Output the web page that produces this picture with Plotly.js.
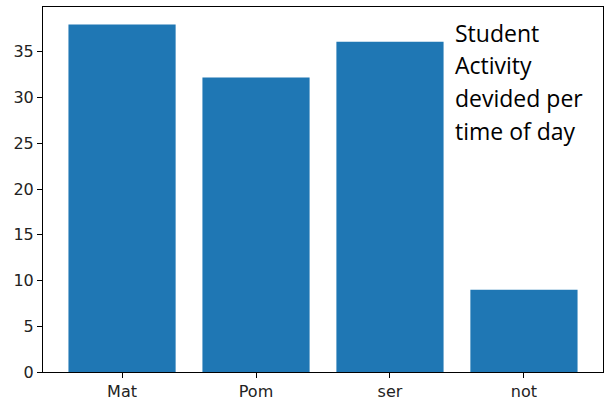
<!DOCTYPE html>
<html>
<head>
<meta charset="utf-8">
<script src="https://cdn.plot.ly/plotly-3.0.1.min.js"></script>
<style>html,body{margin:0;padding:0;background:#fff;}#chart{width:611px;height:410px;}</style>
</head>
<body>
<div id="chart"></div>
<script>
const categories = ["Mat", "Pom", "ser", "not"];
const values = [38, 32.2, 36.1, 9];
const yTicks = [0, 5, 10, 15, 20, 25, 30, 35];
const noteLines = ["Student", "Activity", "devided per", "time of day"];

const W = 611, H = 410;
const margin = {l: 43, r: 8, t: 7, b: 38};
const plotH = H - margin.t - margin.b;
const linePx = [33, 65, 98, 131];

const annotations = noteLines.map((t, i) => ({
  text: t,
  xref: 'x', yref: 'paper',
  x: 2.5, xshift: -4, y: (H - margin.b - linePx[i]) / plotH,
  xanchor: 'left', yanchor: 'middle',
  showarrow: false,
  font: {family: 'Open Sans, Noto Sans, sans-serif', size: 23, color: '#000'}
}));

const trace = {
  type: 'bar',
  x: [0, 1, 2, 3],
  y: values,
  width: 0.8,
  marker: {color: '#1f77b4', line: {width: 0}},
  hoverinfo: 'none'
};

const axisCommon = {
  showline: true, mirror: true, linecolor: '#000', linewidth: 1,
  ticks: 'outside', ticklen: 5, tickwidth: 1, tickcolor: '#000',
  showgrid: false, zeroline: false,
  tickfont: {family: 'DejaVu Sans, sans-serif', size: 16, color: '#222'}
};

const layout = {
  width: W, height: H,
  margin: margin,
  paper_bgcolor: '#fff', plot_bgcolor: '#fff',
  showlegend: false,
  xaxis: Object.assign({}, axisCommon, {
    range: [-0.59, 3.59],
    tickmode: 'array', tickvals: [0, 1, 2, 3], ticktext: categories
  }),
  yaxis: Object.assign({}, axisCommon, {
    range: [0, 39.9],
    tickmode: 'array', tickvals: yTicks, ticktext: yTicks.map(String)
  }),
  annotations: annotations
};

Plotly.newPlot('chart', [trace], layout, {displayModeBar: false, staticPlot: true});
</script>
</body>
</html>
